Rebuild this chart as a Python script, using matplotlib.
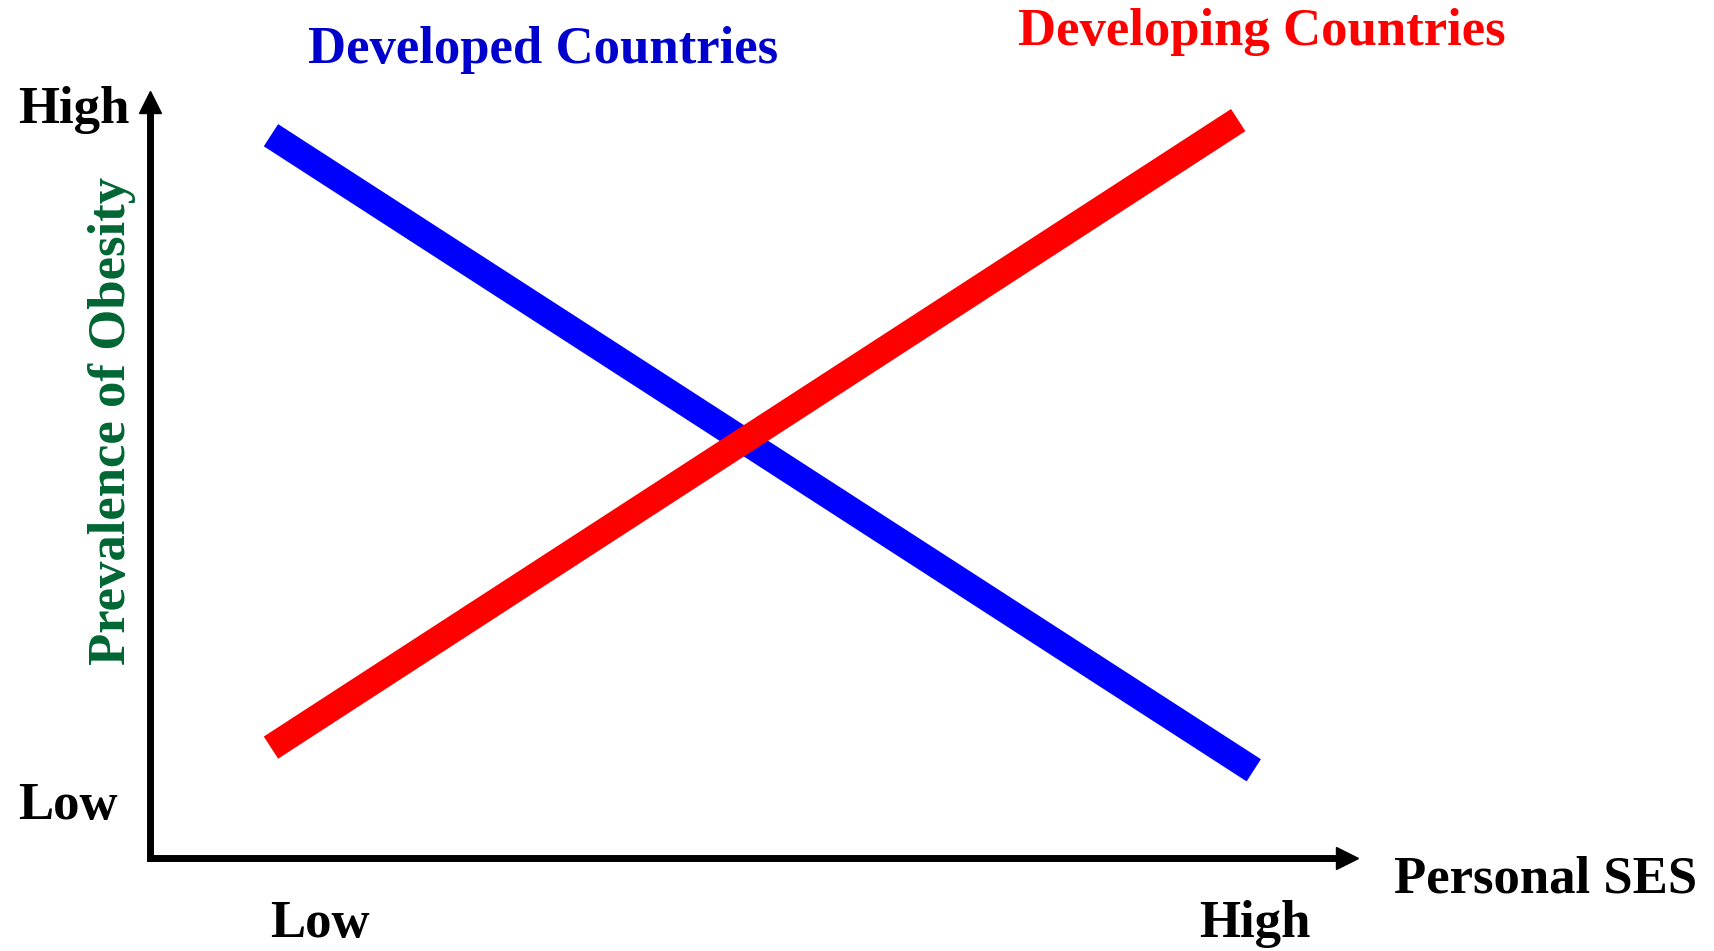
import matplotlib
matplotlib.use("Agg")
import matplotlib.pyplot as plt

# data, in axes units (0..1 along each arrow)
ses_levels = ["Low", "High"]
ses_ticks = [0.142, 0.923]
obesity_levels = ["Low", "High"]
obesity_ticks = [0.052, 0.972]

developed_x = [0.101, 0.922]
developed_y = [0.956, 0.116]
developing_x = [0.101, 0.909]
developing_y = [0.146, 0.976]

plt.rcParams["font.family"] = ["Liberation Serif", "DejaVu Serif"]
plt.rcParams["font.weight"] = "bold"
fsize = 38

fig = plt.figure(figsize=(17.15, 9.51), dpi=100)
ax = fig.add_axes([0.0875, 0.0978, 0.6980, 0.7950])
ax.set_xlim(0, 1)
ax.set_ylim(0, 1)

ax.plot(developed_x, developed_y, color="#0000ff", lw=19, solid_capstyle="butt")
ax.plot(developing_x, developing_y, color="#ff0000", lw=19, solid_capstyle="butt")

# axes drawn as arrows
for side in ["top", "right"]:
    ax.spines[side].set_visible(False)
for side in ["left", "bottom"]:
    ax.spines[side].set_linewidth(5)
    ax.spines[side].set_color("black")
ax.plot(1, 0, ">k", ms=16.5, transform=ax.transAxes, clip_on=False)
ax.plot(0, 1, "^k", ms=16.5, transform=ax.transAxes, clip_on=False)
ax.set_xticks([])
ax.set_yticks([])

for x, lab in zip(ses_ticks, ses_levels):
    ax.text(x, -0.1045, lab, transform=ax.get_xaxis_transform(),
            ha="center", va="baseline", fontsize=fsize, fontweight="bold")
for y, lab in zip(obesity_ticks, obesity_levels):
    ax.text(-0.1103, y, lab, transform=ax.get_yaxis_transform(),
            ha="left", va="baseline", fontsize=fsize, fontweight="bold")

ax.text(1.0393, -0.0463, "Personal SES", transform=ax.transAxes,
        ha="left", va="baseline", fontsize=fsize, fontweight="bold")
ax.text(-0.0317, 0.578, "Prevalence of Obesity", transform=ax.transAxes,
        rotation=90, ha="center", va="center", fontsize=fsize,
        fontweight="bold", color="#006633")
ax.text(0.3283, 1.0516, "Developed Countries", transform=ax.transAxes,
        ha="center", va="baseline", fontsize=fsize, fontweight="bold",
        color="#0000cc")
ax.text(0.9286, 1.0754, "Developing Countries", transform=ax.transAxes,
        ha="center", va="baseline", fontsize=fsize, fontweight="bold",
        color="#ff0000")

fig.savefig("out.png", dpi=100)
